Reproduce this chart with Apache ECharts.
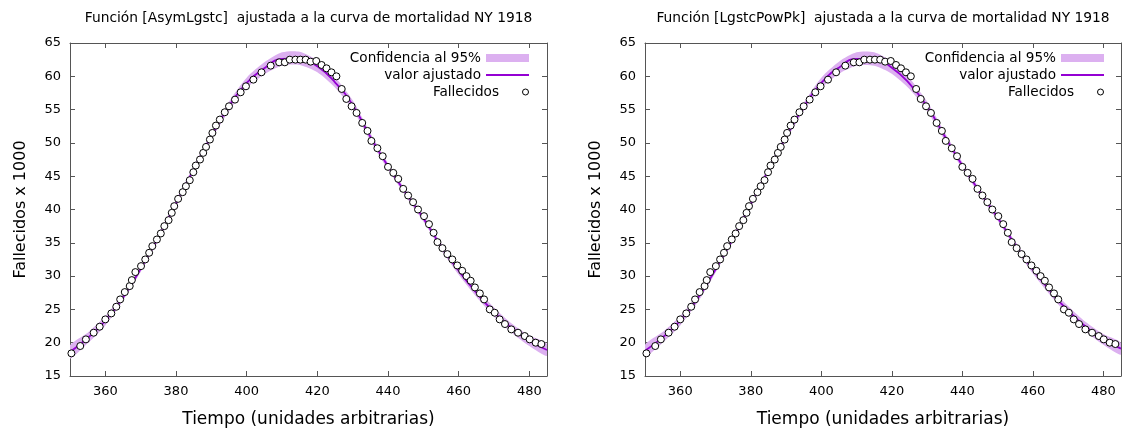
<!DOCTYPE html>
<html>
<head>
<meta charset="utf-8">
<title>Mortalidad NY 1918</title>
<script src="https://cdn.jsdelivr.net/npm/echarts@6/dist/echarts.min.js"></script>
<style>
  html, body { margin: 0; padding: 0; background: #fff; }
  #chart { width: 1126px; height: 433px; }
</style>
</head>
<body>
<div id="chart"></div>
<script>
// Observed deaths (thousands) against time
const tiempo = [
  350.4, 352.9, 354.5, 356.7, 358.4, 360.0, 361.7, 363.1, 364.2, 365.5,
  366.9, 367.5, 368.5, 370.1, 371.3, 372.4, 373.3, 374.6, 375.7, 376.7,
  377.9, 378.8, 379.5, 380.6, 381.9, 382.8, 383.9, 384.9, 385.6, 386.8,
  387.7, 388.5, 389.6, 390.3, 391.3, 392.4, 393.8, 395.0, 396.7, 398.3,
  399.8, 401.9, 404.2, 406.8, 409.2, 410.8, 412.2, 413.8, 415.2, 416.7,
  418.1, 419.7, 421.2, 422.6, 424.0, 425.4, 426.9, 428.2, 429.7, 431.1,
  432.7, 434.2, 435.3, 437.0, 438.5, 440.0, 441.5, 442.9, 444.3, 445.7,
  447.1, 448.5, 450.2, 451.6, 452.9, 454.0, 455.4, 456.8, 458.2, 459.6,
  461.0, 462.2, 463.4, 464.6, 466.0, 467.2, 468.8, 470.2, 471.6, 473.1,
  474.9, 476.8, 478.7, 480.1, 481.8, 483.4
];
const fallecidos = [
  18.4, 19.5, 20.5, 21.5, 22.4, 23.5, 24.4, 25.4, 26.5, 27.6,
  28.5, 29.4, 30.6, 31.5, 32.5, 33.5, 34.5, 35.5, 36.4, 37.5,
  38.4, 39.5, 40.5, 41.6, 42.6, 43.5, 44.4, 45.6, 46.6, 47.5,
  48.5, 49.4, 50.5, 51.5, 52.6, 53.5, 54.6, 55.5, 56.5, 57.6,
  58.5, 59.5, 60.6, 61.6, 62.1, 62.1, 62.5, 62.5, 62.5, 62.5,
  62.2, 62.3, 61.7, 61.2, 60.6, 60.0, 58.1, 56.6, 55.5, 54.5,
  53.0, 51.8, 50.3, 49.2, 48.0, 46.4, 45.5, 44.6, 43.1, 42.1,
  41.1, 40.0, 39.0, 37.8, 36.5, 35.1, 34.2, 33.3, 32.5, 31.6,
  30.8, 30.0, 29.3, 28.3, 27.4, 26.5, 25.0, 24.5, 23.5, 22.8,
  22.0, 21.5, 21.0, 20.5, 20.0, 19.8
];

// Fitted curves and 95% confidence limits, sampled every 5 time units
const tiempoAjuste = [
  350, 355, 360, 365, 370, 375, 380, 385, 390, 395, 400, 405, 410, 415,
  420, 425, 430, 435, 440, 445, 450, 455, 460, 465, 470, 475, 480, 485
];
const ajusteAsym = [
  18.6, 20.7, 23.3, 26.8, 31.1, 35.8, 40.9, 46.0, 51.0, 55.5, 59.0, 61.2, 62.6, 62.7,
  61.5, 59.1, 55.7, 50.9, 46.5, 42.5, 38.7, 34.5, 30.8, 27.5, 24.6, 22.2, 20.3, 18.9
];
const bandaAsymSup = [
  19.6, 21.5, 24.0, 27.4, 31.6, 36.3, 41.4, 46.5, 51.6, 56.2, 59.8, 62.1, 63.6, 63.7,
  62.4, 59.9, 56.4, 51.5, 47.0, 43.0, 39.2, 35.0, 31.4, 28.1, 25.3, 22.9, 21.1, 19.8
];
const bandaAsymInf = [
  17.6, 19.9, 22.6, 26.3, 30.6, 35.3, 40.4, 45.5, 50.5, 54.8, 58.2, 60.3, 61.6, 61.7,
  60.6, 58.3, 55.0, 50.3, 46.0, 42.0, 38.2, 34.0, 30.2, 26.9, 23.9, 21.5, 19.5, 18.0
];
const ajustePowPk = [
  18.8, 20.8, 23.3, 26.7, 31.0, 35.7, 40.8, 45.9, 50.9, 55.4, 59.0, 61.3, 62.6, 62.6,
  61.3, 58.9, 55.5, 51.0, 46.6, 42.6, 38.8, 34.7, 31.0, 27.7, 24.8, 22.4, 20.5, 19.1
];
const bandaPowPkSup = [
  19.7, 21.6, 24.0, 27.3, 31.5, 36.2, 41.3, 46.4, 51.4, 56.0, 59.8, 62.2, 63.6, 63.6,
  62.2, 59.7, 56.2, 51.6, 47.1, 43.1, 39.3, 35.2, 31.6, 28.3, 25.5, 23.1, 21.3, 20.0
];
const bandaPowPkInf = [
  17.9, 20.0, 22.6, 26.1, 30.5, 35.2, 40.3, 45.4, 50.4, 54.8, 58.2, 60.4, 61.6, 61.6,
  60.4, 58.1, 54.8, 50.4, 46.1, 42.1, 38.3, 34.2, 30.4, 27.1, 24.1, 21.7, 19.7, 18.2
];

const ticksX = [360, 380, 400, 420, 440, 460, 480];
const titulos = [
  'Función [AsymLgstc]  ajustada a la curva de mortalidad NY 1918',
  'Función [LgstcPowPk]  ajustada a la curva de mortalidad NY 1918'
];
const nombreX = 'Tiempo (unidades arbitrarias)';
const nombreY = 'Fallecidos x 1000';
const leyenda = ['Confidencia al 95%', 'valor ajustado', 'Fallecidos'];

const FONT = 'DejaVu Sans';
const colorLinea = '#9400d3';
const colorBanda = '#dcb0f0';
const colorBorde = '#555';

// panel frames in pixels
const paneles = [
  { left: 70, right: 579, legendRight: 597, centro: 308.5 },
  { left: 645, right: 5, legendRight: 22, centro: 883 }
];
const curvas = [
  { fit: ajusteAsym, sup: bandaAsymSup, inf: bandaAsymInf },
  { fit: ajustePowPk, sup: bandaPowPkSup, inf: bandaPowPkInf }
];

const pares = (xs, ys) => xs.map((x, i) => [x, ys[i]]);

// closed outline of a confidence band: upper limit forward, lower limit back
function dibujarBanda(sup, inf) {
  return function (params, api) {
    const pts = [];
    for (let k = 0; k < tiempoAjuste.length; k++) pts.push(api.coord([tiempoAjuste[k], sup[k]]));
    for (let k = tiempoAjuste.length - 1; k >= 0; k--) pts.push(api.coord([tiempoAjuste[k], inf[k]]));
    return {
      type: 'polygon',
      shape: { points: pts, smooth: 0.25 },
      style: { fill: colorBanda, stroke: null }
    };
  };
}

const option = {
  animation: false,
  backgroundColor: '#fff',
  title: [], grid: [], xAxis: [], yAxis: [], legend: [], series: []
};

paneles.forEach((p, i) => {
  const c = curvas[i];
  option.title.push({
    text: titulos[i], left: p.centro, top: 11, textAlign: 'center', padding: 0,
    textStyle: { fontFamily: FONT, fontSize: 13.8, fontWeight: 'normal', color: '#000' }
  });
  option.grid.push({ left: p.left, right: p.right, top: 43, bottom: 56, containLabel: false });

  const lineaEje = { show: true, onZero: false, lineStyle: { color: colorBorde, width: 1 } };
  const marca = { show: true, inside: true, length: 5, lineStyle: { color: colorBorde } };
  const etiqueta = { fontFamily: FONT, fontSize: 13, color: '#000' };

  option.xAxis.push({
    type: 'value', gridIndex: i, min: 350, max: 485, position: 'bottom',
    name: nombreX, nameLocation: 'middle', nameGap: 35,
    nameTextStyle: { fontFamily: FONT, fontSize: 17, color: '#000' },
    axisLine: lineaEje, splitLine: { show: false },
    axisTick: Object.assign({}, marca, { customValues: ticksX }),
    axisLabel: Object.assign({}, etiqueta, { margin: 9, customValues: ticksX })
  });
  option.xAxis.push({
    type: 'value', gridIndex: i, min: 350, max: 485, position: 'top',
    axisLine: lineaEje, splitLine: { show: false },
    axisTick: Object.assign({}, marca, { customValues: ticksX }),
    axisLabel: { show: false }
  });
  option.yAxis.push({
    type: 'value', gridIndex: i, min: 15, max: 65, interval: 5, position: 'left',
    name: nombreY, nameLocation: 'middle', nameGap: 41,
    nameTextStyle: { fontFamily: FONT, fontSize: 16, color: '#000' },
    axisLine: lineaEje, splitLine: { show: false }, axisTick: marca,
    axisLabel: Object.assign({}, etiqueta, { margin: 9 })
  });
  option.yAxis.push({
    type: 'value', gridIndex: i, min: 15, max: 65, interval: 5, position: 'right',
    axisLine: lineaEje, splitLine: { show: false }, axisTick: marca,
    axisLabel: { show: false }
  });

  const xi = i * 2, yi = i * 2;
  option.series.push({
    name: leyenda[0], type: 'custom', xAxisIndex: xi, yAxisIndex: yi,
    silent: true, z: 1, clip: true,
    itemStyle: { color: colorBanda },
    data: [[350, 15]],
    renderItem: dibujarBanda(c.sup, c.inf)
  });
  option.series.push({
    name: leyenda[1], type: 'line', xAxisIndex: xi, yAxisIndex: yi,
    smooth: true, showSymbol: false, silent: true, z: 2,
    lineStyle: { color: colorLinea, width: 1.8 }, itemStyle: { color: colorLinea },
    data: pares(tiempoAjuste, c.fit)
  });
  option.series.push({
    name: leyenda[2], type: 'scatter', xAxisIndex: xi, yAxisIndex: yi,
    symbol: 'circle', symbolSize: 7, silent: true, z: 3,
    itemStyle: { color: '#fff', borderColor: '#000', borderWidth: 1, opacity: 1 },
    data: pares(tiempo, fallecidos)
  });

  const baseLeyenda = {
    right: p.legendRight, orient: 'horizontal', align: 'right', padding: 0,
    itemWidth: 43, selectedMode: false,
    textStyle: { fontFamily: FONT, fontSize: 13.6, color: '#000' }
  };
  option.legend.push(Object.assign({}, baseLeyenda, {
    top: 51, itemHeight: 8,
    data: [{ name: leyenda[0], icon: 'rect', itemStyle: { color: colorBanda, borderWidth: 0 } }]
  }));
  option.legend.push(Object.assign({}, baseLeyenda, {
    top: 68, itemHeight: 2,
    data: [{ name: leyenda[1], icon: 'rect', itemStyle: { color: colorLinea, borderWidth: 0 } }]
  }));
  option.legend.push(Object.assign({}, baseLeyenda, {
    top: 85, itemHeight: 6,
    data: [{ name: leyenda[2], icon: 'circle', itemStyle: { color: '#fff', borderColor: '#000', borderWidth: 1 } }]
  }));
});

const chart = echarts.init(document.getElementById('chart'), null, { renderer: 'canvas' });
chart.setOption(option);
</script>
</body>
</html>
